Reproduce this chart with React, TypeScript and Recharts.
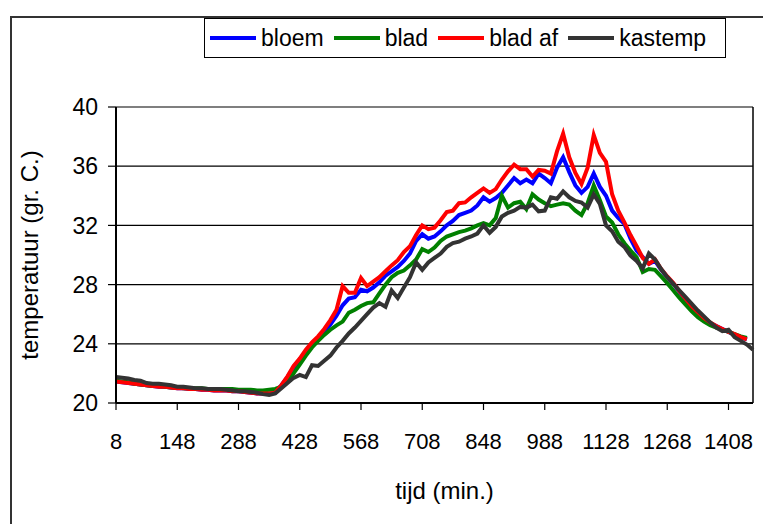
import React from "react";
import { LineChart, Line, XAxis, YAxis, CartesianGrid, ReferenceLine } from "recharts";

// time in minutes (sampled every 14 min)
const tijd: number[] = [
    8, 22, 36, 50, 64, 78, 92, 106, 120, 134,
    148, 162, 176, 190, 204, 218, 232, 246, 260, 274,
    288, 302, 316, 330, 344, 358, 372, 386, 400, 414,
    428, 442, 456, 470, 484, 498, 512, 526, 540, 554,
    568, 582, 596, 610, 624, 638, 652, 666, 680, 694,
    708, 722, 736, 750, 764, 778, 792, 806, 820, 834,
    848, 862, 876, 890, 904, 918, 932, 946, 960, 974,
    988, 1002, 1016, 1030, 1044, 1058, 1072, 1086, 1100, 1114,
    1128, 1142, 1156, 1170, 1184, 1198, 1212, 1226, 1240, 1254,
    1268, 1282, 1296, 1310, 1324, 1338, 1352, 1366, 1380, 1394,
    1408, 1422, 1436, 1450, 1464,
];

const bloem: (number | null)[] = [
    21.45, 21.4, 21.35, 21.3, 21.25, 21.2, 21.15, 21.1, 21.1, 21.05,
    21.0, 21.0, 20.95, 20.95, 20.9, 20.9, 20.85, 20.85, 20.85, 20.8,
    20.8, 20.75, 20.7, 20.65, 20.65, 20.65, 20.7, 21.2, 21.75, 22.4,
    22.95, 23.5, 24.0, 24.4, 24.8, 25.3, 25.9, 26.6, 27.05, 27.15,
    27.65, 27.55, 27.8, 28.15, 28.6, 28.9, 29.2, 29.6, 30.1, 30.95,
    31.4, 31.1, 31.25, 31.6, 32.0, 32.3, 32.7, 32.85, 33.0, 33.35,
    33.9, 33.6, 33.85, 34.2, 34.7, 35.2, 34.85, 35.1, 34.85, 35.5,
    35.2, 34.85, 35.9, 36.6, 35.6, 34.7, 34.2, 34.6, 35.5, 34.6,
    34.0, 33.0, 32.5, 32.1, 31.1, 30.3, 29.85, 29.4, 29.6, 29.0,
    28.5, 28.05, 27.5, 27.0, 26.5, 26.1, 25.7, 25.4, 25.2, 25.0,
    24.8, 24.6, 24.45, 24.3, null,
];

const blad: (number | null)[] = [
    21.5, 21.45, 21.4, 21.3, 21.25, 21.2, 21.15, 21.15, 21.1, 21.05,
    21.05, 21.0, 21.0, 21.0, 21.0, 20.95, 20.95, 20.95, 20.95, 20.95,
    20.9, 20.9, 20.9, 20.85, 20.85, 20.9, 20.95, 21.1, 21.5, 22.0,
    22.6, 23.2, 23.75, 24.2, 24.6, 24.95, 25.25, 25.5, 26.1, 26.3,
    26.55, 26.75, 26.8, 27.4, 28.0, 28.5, 28.8, 28.95, 29.3, 29.7,
    30.4, 30.2, 30.5, 30.95, 31.25, 31.4, 31.55, 31.65, 31.8, 32.0,
    32.15, 32.0, 32.5, 34.0, 33.2, 33.5, 33.6, 33.1, 34.1, 33.75,
    33.5, 33.3, 33.4, 33.5, 33.4, 33.0, 32.7, 33.5, 34.7, 33.7,
    32.6, 32.2, 31.4, 30.8, 30.3, 29.85, 28.85, 29.05, 29.0, 28.55,
    28.1, 27.6, 27.1, 26.65, 26.2, 25.8, 25.5, 25.25, 25.1, 24.95,
    24.8, 24.65, 24.5, 24.4, null,
];

const bladAf: (number | null)[] = [
    21.45, 21.4, 21.35, 21.3, 21.25, 21.2, 21.15, 21.1, 21.1, 21.05,
    21.0, 21.0, 20.95, 20.95, 20.9, 20.9, 20.85, 20.85, 20.85, 20.8,
    20.8, 20.75, 20.7, 20.65, 20.65, 20.65, 20.7, 21.2, 21.8, 22.5,
    23.0, 23.6, 24.1, 24.5, 25.0, 25.6, 26.3, 27.9, 27.45, 27.45,
    28.45, 27.9, 28.2, 28.5, 28.9, 29.3, 29.65, 30.2, 30.6, 31.35,
    32.0, 31.75, 31.85, 32.35, 32.9, 33.0, 33.5, 33.55, 33.9, 34.2,
    34.5, 34.2, 34.45, 35.1, 35.65, 36.1, 35.8, 35.8, 35.3, 35.75,
    35.7, 35.5, 37.0, 38.2, 36.6, 35.55, 34.8, 35.9, 38.1, 36.9,
    36.3, 34.1, 33.0, 32.2, 31.35, 30.6, 29.8, 29.4, 29.7, 29.05,
    28.55, 28.1, 27.55, 27.05, 26.55, 26.15, 25.75, 25.45, 25.2, 25.0,
    24.8, 24.65, 24.45, 24.3, null,
];

const kastemp: number[] = [
    21.75, 21.7, 21.65, 21.55, 21.5, 21.35, 21.3, 21.3, 21.25, 21.2,
    21.1, 21.1, 21.05, 21.0, 21.0, 20.95, 20.95, 20.95, 20.9, 20.85,
    20.8, 20.8, 20.75, 20.7, 20.6, 20.55, 20.65, 21.0, 21.35, 21.7,
    21.9, 21.75, 22.55, 22.5, 22.85, 23.2, 23.75, 24.2, 24.7, 25.1,
    25.55, 26.0, 26.45, 26.75, 26.5, 27.6, 27.1, 27.8, 28.5, 29.5,
    29.0, 29.5, 29.8, 30.1, 30.55, 30.8, 30.9, 31.1, 31.25, 31.45,
    32.0, 31.5, 31.9, 32.6, 32.85, 33.0, 33.25, 33.2, 33.4, 32.95,
    33.0, 33.9, 33.8, 34.3, 33.9, 33.65, 33.55, 33.2, 34.1, 33.45,
    32.0, 31.6, 30.9, 30.55, 29.95, 29.6, 29.1, 30.1, 29.7, 29.05,
    28.5, 28.05, 27.6, 27.15, 26.7, 26.25, 25.85, 25.45, 25.1, 24.85,
    24.95, 24.45, 24.2, 23.95, 23.6,
];

const xTicks = [8, 148, 288, 428, 568, 708, 848, 988, 1128, 1268, 1408];
const yTicks = [20, 24, 28, 32, 36, 40];

const series = [
    { key: "bloem", name: "bloem", color: "#0000ff" },
    { key: "blad", name: "blad", color: "#008000" },
    { key: "bladAf", name: "blad af", color: "#ff0000" },
    { key: "kastemp", name: "kastemp", color: "#333333" },
];

const data = tijd.map((t, i) => ({
    tijd: t,
    bloem: bloem[i],
    blad: blad[i],
    bladAf: bladAf[i],
    kastemp: kastemp[i],
}));

const FONT = "'Liberation Sans', Arial, sans-serif";

const YTitle = (props: any) => {
    const { viewBox } = props;
    const x = viewBox.x - 27;
    const y = viewBox.y + viewBox.height / 2;
    return (
        <text x={x} y={y} transform={`rotate(-90 ${x} ${y})`} textAnchor="middle" dominantBaseline="central"
            fontSize={24} fill="#000" fontFamily={FONT}>
            temperatuur (gr. C.)
        </text>
    );
};

const XTitle = (props: any) => {
    const { viewBox } = props;
    const x = viewBox.x + viewBox.width / 2 + 10;
    const y = viewBox.y + viewBox.height + 56;
    return (
        <text x={x} y={y} textAnchor="middle" fontSize={24} fill="#000" fontFamily={FONT}>
            tijd (min.)
        </text>
    );
};

const App: React.FC = () => {
    return (
        <div style={{ position: "absolute", left: 0, top: 0, width: 763, height: 524, overflow: "hidden", background: "#fff", fontFamily: FONT }}>
            {/* outer chart frame */}
            <div style={{ position: "absolute", left: 10, top: 16, width: 800, height: 600, border: "2px solid #333" }} />

            <div style={{ position: "absolute", left: 0, top: 0 }}>
                <LineChart width={763} height={524} data={data} margin={{ top: 107, right: 10, bottom: 81, left: 56 }}>
                    <CartesianGrid horizontal vertical={false} stroke="#000" strokeWidth={1.2} />
                    <XAxis
                        dataKey="tijd"
                        type="number"
                        domain={[8, 1464]}
                        ticks={xTicks}
                        interval={0}
                        height={40}
                        tickSize={7}
                        tickMargin={23}
                        axisLine={{ stroke: "#000", strokeWidth: 2 }}
                        tickLine={{ stroke: "#000", strokeWidth: 1.2 }}
                        tick={{ fill: "#000", fontSize: 22, fontFamily: FONT }}
                        label={<XTitle />}
                    />
                    <YAxis
                        domain={[20, 40]}
                        ticks={yTicks}
                        interval={0}
                        width={60}
                        tickSize={8}
                        tickMargin={10}
                        axisLine={{ stroke: "#000", strokeWidth: 2 }}
                        tickLine={{ stroke: "#000", strokeWidth: 1.2 }}
                        tick={{ fill: "#000", fontSize: 23, fontFamily: FONT }}
                        label={<YTitle />}
                    />
                    <ReferenceLine x={1464} stroke="#000" strokeWidth={1.5} />
                    {series.map((s) => (
                        <Line
                            key={s.key}
                            type="linear"
                            dataKey={s.key}
                            name={s.name}
                            stroke={s.color}
                            strokeWidth={4}
                            dot={false}
                            activeDot={false}
                            isAnimationActive={false}
                        />
                    ))}
                </LineChart>
            </div>

            {/* legend */}
            <div
                style={{
                    position: "absolute",
                    left: 204,
                    top: 18,
                    width: 522,
                    height: 40,
                    border: "1px solid #000",
                    display: "flex",
                    alignItems: "center",
                    paddingLeft: 5,
                    boxSizing: "border-box",
                    fontSize: 23,
                    color: "#000",
                    whiteSpace: "nowrap",
                }}
            >
                {series.map((s) => (
                    <div key={s.key} style={{ display: "flex", alignItems: "center", marginRight: 10 }}>
                        <div style={{ width: 46, height: 4, background: s.color, marginRight: 5 }} />
                        <span>{s.name}</span>
                    </div>
                ))}
            </div>
        </div>
    );
};

export default App;
